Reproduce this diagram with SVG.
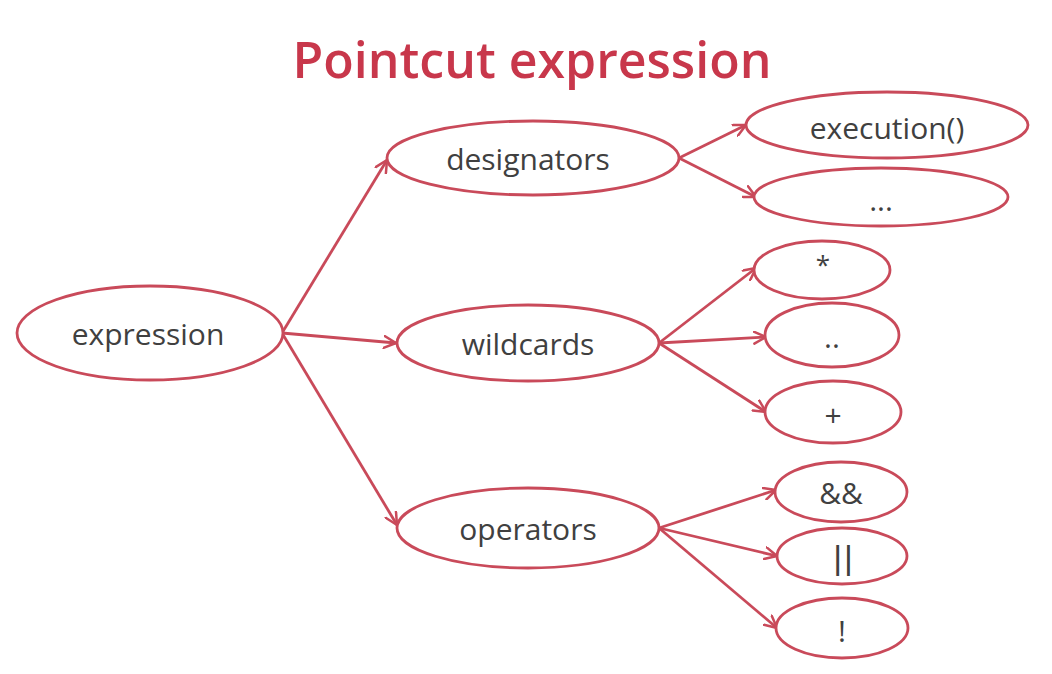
<svg xmlns="http://www.w3.org/2000/svg" width="1052" height="674" viewBox="0 0 1052 674">
<defs>
<marker id="arr" viewBox="0 0 14 14" refX="13" refY="7" markerWidth="14" markerHeight="14" markerUnits="userSpaceOnUse" orient="auto">
<path d="M1,1 L13,7 L1,13" fill="none" stroke="#c94a5a" stroke-width="2.5" stroke-linecap="round" stroke-linejoin="round"/>
</marker>
<style>
.n{fill:#fff;stroke:#c94a5a;stroke-width:2.8}
.t{font-family:"Open Sans","Liberation Sans",sans-serif;font-size:30px;fill:#404040;text-anchor:middle;dominant-baseline:central}
.c{fill:none;stroke:#c94a5a;stroke-width:2.8;marker-end:url(#arr)}
.title{font-family:"Open Sans","Liberation Sans",sans-serif;font-size:50px;font-weight:600;fill:#c8374b;text-anchor:middle}
</style>
</defs>
<rect width="1052" height="674" fill="#fff"/>
<text class="title" x="532" y="78">Pointcut expression</text>
<g id="connectors">
<line class="c" x1="282" y1="333" x2="387" y2="160"/>
<line class="c" x1="282" y1="333" x2="396" y2="343"/>
<line class="c" x1="282" y1="333" x2="397" y2="525"/>
<line class="c" x1="679" y1="158" x2="746" y2="125"/>
<line class="c" x1="679" y1="158" x2="756" y2="197"/>
<line class="c" x1="659" y1="343" x2="756" y2="268"/>
<line class="c" x1="659" y1="343" x2="766" y2="337"/>
<line class="c" x1="659" y1="343" x2="766" y2="412"/>
<line class="c" x1="659" y1="528" x2="776" y2="490"/>
<line class="c" x1="659" y1="528" x2="777" y2="556"/>
<line class="c" x1="659" y1="528" x2="777" y2="628"/>
</g>
<g id="expression"><ellipse class="n" cx="150" cy="333" rx="133" ry="47"/><text class="t" x="148" y="333">expression</text></g>
<g id="designators"><ellipse class="n" cx="533" cy="158" rx="146" ry="37"/><text class="t" x="528" y="158">designators</text></g>
<g id="execution"><ellipse class="n" cx="887" cy="125" rx="141" ry="33"/><text class="t" x="887" y="127">execution()</text></g>
<g id="more"><ellipse class="n" cx="881" cy="197" rx="127" ry="29"/><text class="t" x="881" y="199">...</text></g>
<g id="wildcards"><ellipse class="n" cx="528" cy="343" rx="131" ry="38"/><text class="t" x="528" y="343">wildcards</text></g>
<g id="star"><ellipse class="n" cx="822" cy="270" rx="68" ry="29"/><text class="t" x="823" y="264" style="font-size:26px">*</text></g>
<g id="dotdot"><ellipse class="n" cx="832" cy="335" rx="67" ry="32"/><text class="t" x="832" y="336">..</text></g>
<g id="plus"><ellipse class="n" cx="833" cy="412" rx="68" ry="31"/><text class="t" x="833" y="414">+</text></g>
<g id="operators"><ellipse class="n" cx="528" cy="528" rx="131" ry="40"/><text class="t" x="528" y="528">operators</text></g>
<g id="and"><ellipse class="n" cx="841" cy="492" rx="66" ry="30"/><text class="t" x="841" y="492">&amp;&amp;</text></g>
<g id="or"><ellipse class="n" cx="842" cy="556" rx="65" ry="28"/><text class="t" x="844" y="557" style="font-family:'Liberation Sans',sans-serif;font-size:34px;letter-spacing:2px">||</text></g>
<g id="not"><ellipse class="n" cx="842" cy="628" rx="66" ry="30"/><text class="t" x="842" y="630">!</text></g>
</svg>
